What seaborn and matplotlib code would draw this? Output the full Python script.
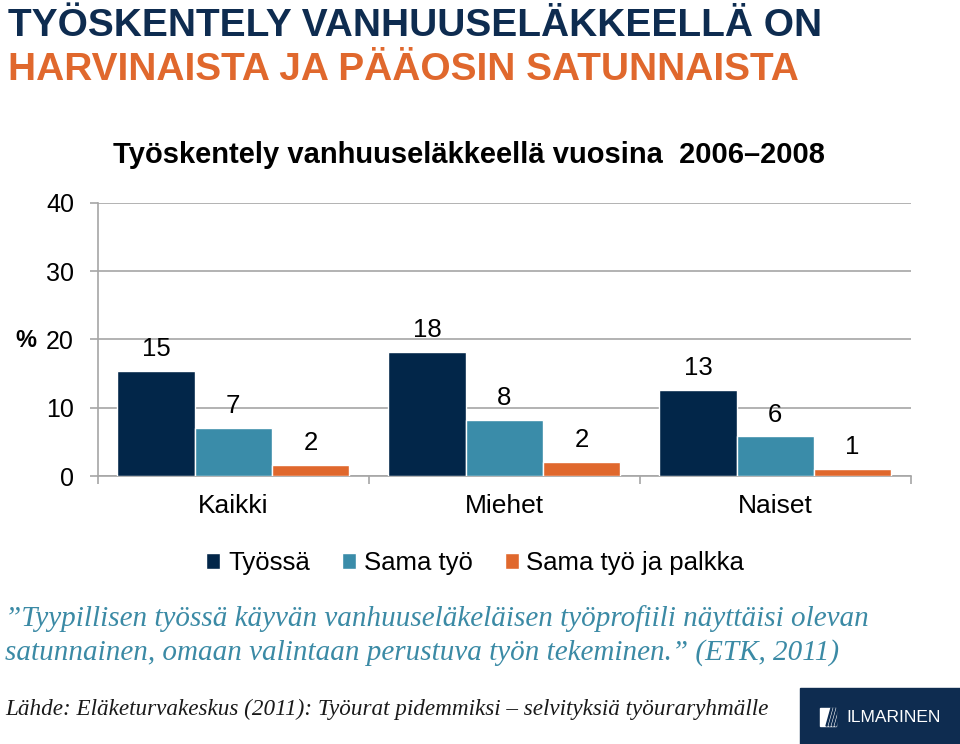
import pandas as pd
import numpy as np
import matplotlib.pyplot as plt
import matplotlib.patches as mpatches
import seaborn as sns

# data (% of old-age pensioners)
groups = ['Kaikki', 'Miehet', 'Naiset']
series = ['Työssä', 'Sama työ', 'Sama työ ja palkka']
tyossa = [15.4, 18.2, 12.6]
sama_tyo = [7.1, 8.2, 5.8]
sama_tyo_palkka = [1.6, 2.1, 1.0]
y_ticks = [0, 10, 20, 30, 40]

colors = ['#022649', '#3a8ca9', '#e0682d']
navy = '#0e2c50'
orange = '#e0682d'
teal = '#3b8aa5'

sns.set_style('white')
plt.rcParams['font.family'] = ['Liberation Sans', 'DejaVu Sans']
plt.rcParams['text.color'] = 'black'

df = pd.DataFrame({
    'ryhma': groups * 3,
    'sarja': [series[0]] * 3 + [series[1]] * 3 + [series[2]] * 3,
    'arvo': tyossa + sama_tyo + sama_tyo_palkka,
})

fig = plt.figure(figsize=(9.6, 7.44), dpi=100)
ax = fig.add_axes([0.1018, 0.3602, 0.847, 0.3673])

sns.barplot(data=df, x='ryhma', y='arvo', hue='sarja', hue_order=series,
            palette=colors, width=0.856, gap=0, saturation=1, errorbar=None,
            ax=ax, zorder=3)

for cont in ax.containers:
    ax.bar_label(cont, fmt='%.0f', padding=7, fontsize=18.5, color='black')

handles, labels = ax.get_legend_handles_labels()
ax.get_legend().remove()

ax.set_ylim(0, 40)
ax.set_yticks(y_ticks)
ax.set_xlim(-0.5, 2.5)
ax.yaxis.grid(True, color='#a6a6a6', linewidth=1.2, zorder=0)
ax.set_axisbelow(True)
for s in ['top', 'right']:
    ax.spines[s].set_visible(False)
for s in ['left', 'bottom']:
    ax.spines[s].set_color('#a6a6a6')
    ax.spines[s].set_linewidth(1.2)
ax.tick_params(axis='y', length=6, width=1.2, color='#a6a6a6', pad=11,
               labelsize=18, labelcolor='black', left=True)
ax.tick_params(axis='x', which='major', length=0, pad=13, labelsize=19,
               labelcolor='black')
ax.set_xticks([-0.5, 0.5, 1.5, 2.5], minor=True)
ax.tick_params(axis='x', which='minor', length=6, width=1.2, color='#a6a6a6',
               bottom=True)
ax.set_xlabel('')
ax.set_ylabel('')

fig.text(0.016, 1 - 341 / 744, '%', fontsize=17, fontweight='bold', va='center')

# headings
fig.text(0.008, 1 - 26 / 744, 'TYÖSKENTELY VANHUUSELÄKKEELLÄ ON', color=navy,
         fontsize=28, fontweight='bold', va='center')
fig.text(0.008, 1 - 70 / 744, 'HARVINAISTA JA PÄÄOSIN SATUNNAISTA', color=orange,
         fontsize=28, fontweight='bold', va='center')
fig.text(0.4885, 1 - 155 / 744, 'Työskentely vanhuuseläkkeellä vuosina  2006–2008',
         fontsize=21, fontweight='bold', ha='center', va='center')

fig.legend(handles, labels, loc='center', bbox_to_anchor=(0.495, 1 - 563 / 744),
           ncol=3, frameon=False, fontsize=18.5, handlelength=0.55,
           handleheight=0.55, handletextpad=0.3, columnspacing=1.25)

# quote and source
fig.text(0.005, 1 - 619 / 744,
         '”Tyypillisen työssä käyvän vanhuuseläkeläisen työprofiili näyttäisi olevan',
         fontsize=21, style='italic', color=teal, va='center',
         family=['Liberation Serif', 'DejaVu Serif'])
fig.text(0.005, 1 - 653 / 744,
         'satunnainen, omaan valintaan perustuva työn tekeminen.” (ETK, 2011)',
         fontsize=21, style='italic', color=teal, va='center',
         family=['Liberation Serif', 'DejaVu Serif'])
fig.text(0.005, 1 - 709 / 744,
         'Lähde: Eläketurvakeskus (2011): Työurat pidemmiksi – selvityksiä työuraryhmälle',
         fontsize=16.7, style='italic', color='#1a1a1a', va='center',
         family=['Liberation Serif', 'DejaVu Serif'])

# logo box
fig.patches.append(mpatches.Rectangle((800 / 960, 0), 160 / 960, 56 / 744,
                                      transform=fig.transFigure, color=navy,
                                      zorder=1))
fig.patches.append(mpatches.Rectangle((820 / 960, 1 - 726 / 744), 16 / 960, 18 / 744,
                                      transform=fig.transFigure, color='white',
                                      zorder=2))
for i in range(4):
    x0 = (826 + i * 3) / 960
    fig.patches.append(mpatches.Polygon(
        [(x0, 1 - 726 / 744), (x0 + 1 / 960, 1 - 726 / 744),
         (x0 + 6 / 960, 1 - 708 / 744), (x0 + 5 / 960, 1 - 708 / 744)],
        closed=True, transform=fig.transFigure, color=navy, zorder=3))
fig.text(846 / 960, 1 - 717 / 744, 'ILMARINEN', color='white', fontsize=12.5,
         va='center', zorder=3)

fig.savefig('out.png', dpi=100)
